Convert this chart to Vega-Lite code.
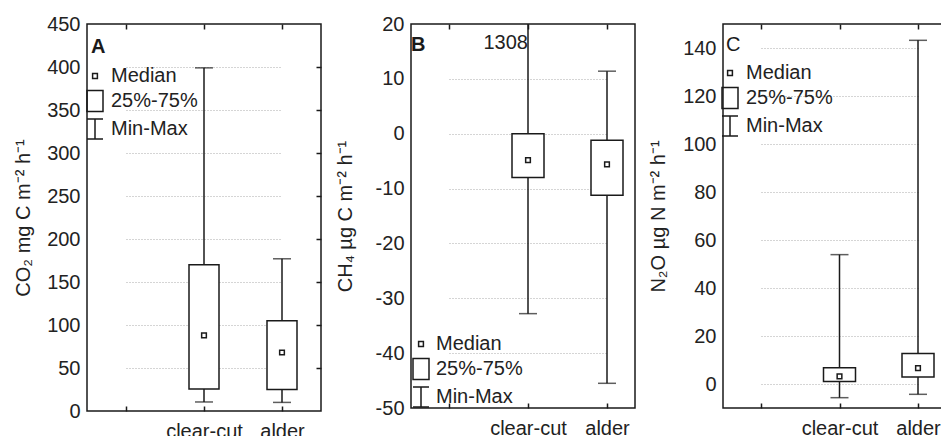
{
  "$schema": "https://vega.github.io/schema/vega-lite/v6.json",
  "background": "white",
  "padding": {"left": 12, "top": 13, "right": 0, "bottom": 0},
  "spacing": 11,
  "config": {
    "font": "Liberation Sans",
    "view": {"stroke": "#1a1a1a", "strokeWidth": 1.5},
    "axis": {"labelFont": "Liberation Sans", "titleFont": "Liberation Sans", "labelColor": "#222222", "titleColor": "#222222", "labelFontSize": 20, "titleFontSize": 20, "titleFontWeight": "normal"},
    "legend": {"labelFont": "Liberation Sans", "labelFontSize": 20, "labelColor": "#222222"}
  },
  "datasets": {
    "A": [
      {"group": "clear-cut", "min": 10.5, "q1": 25.5, "median": 88, "q3": 170, "max": 399},
      {"group": "alder", "min": 10, "q1": 25, "median": 68, "q3": 105, "max": 177}
    ],
    "B": [
      {"group": "clear-cut", "min": -32.8, "q1": -8, "median": -4.8, "q3": 0, "max": 1308, "label": "1308"},
      {"group": "alder", "min": -45.5, "q1": -11.2, "median": -5.6, "q3": -1.2, "max": 11.4}
    ],
    "C": [
      {"group": "clear-cut", "min": -5.7, "q1": 1, "median": 3.2, "q3": 6.8, "max": 53.9},
      {"group": "alder", "min": -4.3, "q1": 2.9, "median": 6.6, "q3": 12.7, "max": 143.2}
    ],
    "legend": [{"item": "Median"}, {"item": "25%-75%"}, {"item": "Min-Max"}]
  },
  "hconcat": [
    {
      "width": 234, "height": 387,
      "title": {"text": "A", "anchor": "start", "frame": "group", "orient": "top", "offset": -59, "baseline": "alphabetic", "dx": 4, "fontSize": 20, "fontWeight": "bold", "color": "#1a1a1a"},
      "data": {"name": "A"},
      "layer": [
        {
          "mark": {"type": "rule", "stroke": "#1a1a1a", "strokeWidth": 1.5},
          "encoding": {
            "x": {"field": "group", "type": "nominal", "scale": {"type": "point", "domain": [" ", "clear-cut", "alder"], "range": [39, 195], "padding": 0},
                  "axis": {"orient": "bottom", "title": null, "labelAngle": 0, "domain": false, "grid": false, "ticks": true, "tickSize": -5, "tickColor": "#1a1a1a", "tickWidth": 1.5, "labelPadding": 15}},
            "y": {"field": "min", "type": "quantitative", "scale": {"domain": [0, 450], "nice": false, "zero": false},
                  "axis": {"orient": "left", "title": "CO₂ mg C m⁻² h⁻¹", "titlePadding": 13, "values": [0, 50, 100, 150, 200, 250, 300, 350, 400, 450], "labelExpr": "datum.value + ''", "ticks": false, "domain": false, "labelPadding": 7, "grid": true, "gridColor": "#aaaaaa", "gridDash": [1, 2], "gridWidth": 1, "gridOpacity": {"condition": {"test": "datum.value == 0 || datum.value == 450", "value": 0}, "value": 1}}},
            "y2": {"field": "max"}
          }
        },
        {
          "mark": {"type": "tick", "size": 18, "thickness": 1.5, "color": "#1a1a1a"},
          "encoding": {
            "x": {"field": "group", "type": "nominal", "axis": {"orient": "top", "labels": false, "title": null, "domain": false, "grid": false, "ticks": true, "tickSize": -5, "tickColor": "#1a1a1a", "tickWidth": 1.5}},
            "y": {"field": "min", "type": "quantitative", "axis": {"orient": "right", "labels": false, "title": null, "domain": false, "grid": false, "ticks": true, "tickSize": -5, "tickColor": "#1a1a1a", "tickWidth": 1.5, "values": [50, 100, 150, 200, 250, 300, 350, 400]}}
          }
        },
        {
          "mark": {"type": "tick", "size": 18, "thickness": 1.5, "color": "#1a1a1a"},
          "encoding": {
            "x": {"field": "group", "type": "nominal", "axis": null},
            "y": {"field": "max", "type": "quantitative", "axis": null}
          }
        },
        {
          "mark": {"type": "bar", "size": 30, "fill": "white", "stroke": "#1a1a1a", "strokeWidth": 1.5},
          "encoding": {
            "x": {"field": "group", "type": "nominal", "axis": null},
            "y": {"field": "q1", "type": "quantitative", "axis": null},
            "y2": {"field": "q3"}
          }
        },
        {
          "mark": {"type": "point", "shape": "square", "size": 22, "filled": false, "stroke": "#1a1a1a", "strokeWidth": 1.5, "opacity": 1},
          "encoding": {
            "x": {"field": "group", "type": "nominal", "axis": null},
            "y": {"field": "median", "type": "quantitative", "axis": null}
          }
        },
        {
          "data": {"name": "legend"},
          "mark": {"type": "point", "filled": false, "opacity": 0, "color": "#1a1a1a"},
          "encoding": {
            "shape": {"field": "item", "type": "nominal",
              "scale": {"domain": ["Median", "25%-75%", "Min-Max"], "range": ["M-0.3,-0.3H0.3V0.3H-0.3Z", "M-1,-1.3H1V1.3H-1Z", "M-1,-1.25H1M0,-1.25V1.25M-1,1.25H1"]},
              "legend": {"orient": "none", "legendX": -2, "legendY": 42, "title": null, "labelOffset": 6, "symbolSize": 256, "symbolStrokeWidth": 1.5, "symbolStrokeColor": "#1a1a1a", "symbolFillColor": "white", "symbolOpacity": 1, "rowPadding": 1, "padding": 0}}
          }
        }
      ],
      "resolve": {"axis": {"x": "independent", "y": "independent"}}
    },
    {
      "width": 224, "height": 384,
      "title": {"text": "B", "anchor": "start", "frame": "group", "orient": "top", "offset": -57, "baseline": "alphabetic", "dx": 0, "fontSize": 20, "fontWeight": "bold", "color": "#1a1a1a"},
      "data": {"name": "B"},
      "layer": [
        {
          "mark": {"type": "rule", "stroke": "#1a1a1a", "strokeWidth": 1.5},
          "encoding": {
            "x": {"field": "group", "type": "nominal", "scale": {"type": "point", "domain": [" ", "clear-cut", "alder"], "range": [38, 196], "padding": 0},
                  "axis": {"orient": "bottom", "title": null, "labelAngle": 0, "domain": false, "grid": false, "ticks": true, "tickSize": -5, "tickColor": "#1a1a1a", "tickWidth": 1.5, "labelPadding": 15}},
            "y": {"field": "min", "type": "quantitative", "scale": {"domain": [-50, 20], "nice": false, "zero": false, "clamp": true},
                  "axis": {"orient": "left", "title": "CH₄ µg C m⁻² h⁻¹", "titlePadding": 20, "values": [-50, -40, -30, -20, -10, 0, 10, 20], "labelExpr": "datum.value + ''", "ticks": false, "domain": false, "labelPadding": 7, "grid": true, "gridColor": "#aaaaaa", "gridDash": [1, 2], "gridWidth": 1, "gridOpacity": {"condition": {"test": "datum.value == -50 || datum.value == 20", "value": 0}, "value": 1}}},
            "y2": {"field": "max"}
          }
        },
        {
          "mark": {"type": "tick", "size": 18, "thickness": 1.5, "color": "#1a1a1a"},
          "encoding": {
            "x": {"field": "group", "type": "nominal", "axis": {"orient": "top", "labels": false, "title": null, "domain": false, "grid": false, "ticks": true, "tickSize": -5, "tickColor": "#1a1a1a", "tickWidth": 1.5}},
            "y": {"field": "min", "type": "quantitative", "axis": null}
          }
        },
        {
          "transform": [{"filter": "datum.max <= 20"}],
          "mark": {"type": "tick", "size": 18, "thickness": 1.5, "color": "#1a1a1a"},
          "encoding": {
            "x": {"field": "group", "type": "nominal", "axis": null},
            "y": {"field": "max", "type": "quantitative", "axis": null}
          }
        },
        {
          "mark": {"type": "bar", "size": 32, "fill": "white", "stroke": "#1a1a1a", "strokeWidth": 1.5},
          "encoding": {
            "x": {"field": "group", "type": "nominal", "axis": null},
            "y": {"field": "q1", "type": "quantitative", "axis": null},
            "y2": {"field": "q3"}
          }
        },
        {
          "mark": {"type": "point", "shape": "square", "size": 22, "filled": false, "stroke": "#1a1a1a", "strokeWidth": 1.5, "opacity": 1},
          "encoding": {
            "x": {"field": "group", "type": "nominal", "axis": null},
            "y": {"field": "median", "type": "quantitative", "axis": null}
          }
        },
        {
          "transform": [{"filter": "datum.label"}],
          "mark": {"type": "text", "align": "right", "baseline": "top", "dy": 9, "fontSize": 20, "color": "#222222"},
          "encoding": {
            "x": {"field": "group", "type": "nominal", "axis": null},
            "y": {"field": "max", "type": "quantitative", "axis": null},
            "text": {"field": "label"}
          }
        },
        {
          "data": {"name": "legend"},
          "mark": {"type": "point", "filled": false, "opacity": 0, "color": "#1a1a1a"},
          "encoding": {
            "shape": {"field": "item", "type": "nominal",
              "scale": {"domain": ["Median", "25%-75%", "Min-Max"], "range": ["M-0.3,-0.3H0.3V0.3H-0.3Z", "M-1,-1.3H1V1.3H-1Z", "M-1,-1.25H1M0,-1.25V1.25M-1,1.25H1"]},
              "legend": {"orient": "none", "legendX": 0, "legendY": 310, "title": null, "labelOffset": 5, "symbolSize": 256, "symbolStrokeWidth": 1.5, "symbolStrokeColor": "#1a1a1a", "symbolFillColor": "white", "symbolOpacity": 1, "rowPadding": 1, "padding": 0}}
          }
        }
      ],
      "resolve": {"axis": {"x": "independent", "y": "independent"}}
    },
    {
      "width": 233, "height": 384,
      "title": {"text": "C", "anchor": "start", "frame": "group", "orient": "top", "offset": -48, "baseline": "alphabetic", "dx": 3, "fontSize": 20, "fontWeight": "normal", "color": "#1a1a1a"},
      "data": {"name": "C"},
      "layer": [
        {
          "mark": {"type": "rule", "stroke": "#1a1a1a", "strokeWidth": 1.5},
          "encoding": {
            "x": {"field": "group", "type": "nominal", "scale": {"type": "point", "domain": [" ", "clear-cut", "alder"], "range": [38, 195], "padding": 0},
                  "axis": {"orient": "bottom", "title": null, "labelAngle": 0, "domain": false, "grid": false, "ticks": true, "tickSize": -5, "tickColor": "#1a1a1a", "tickWidth": 1.5, "labelPadding": 15}},
            "y": {"field": "min", "type": "quantitative", "scale": {"domain": [-10, 150], "nice": false, "zero": false},
                  "axis": {"orient": "left", "title": "N₂O µg N m⁻² h⁻¹", "titlePadding": 14, "values": [0, 20, 40, 60, 80, 100, 120, 140], "labelExpr": "datum.value + ''", "ticks": false, "domain": false, "labelPadding": 7, "grid": true, "gridColor": "#aaaaaa", "gridDash": [1, 2], "gridWidth": 1}},
            "y2": {"field": "max"}
          }
        },
        {
          "mark": {"type": "tick", "size": 18, "thickness": 1.5, "color": "#1a1a1a"},
          "encoding": {
            "x": {"field": "group", "type": "nominal", "axis": {"orient": "top", "labels": false, "title": null, "domain": false, "grid": false, "ticks": true, "tickSize": -5, "tickColor": "#1a1a1a", "tickWidth": 1.5}},
            "y": {"field": "min", "type": "quantitative", "axis": null}
          }
        },
        {
          "mark": {"type": "tick", "size": 18, "thickness": 1.5, "color": "#1a1a1a"},
          "encoding": {
            "x": {"field": "group", "type": "nominal", "axis": null},
            "y": {"field": "max", "type": "quantitative", "axis": null}
          }
        },
        {
          "mark": {"type": "bar", "size": 32, "fill": "white", "stroke": "#1a1a1a", "strokeWidth": 1.5},
          "encoding": {
            "x": {"field": "group", "type": "nominal", "axis": null},
            "y": {"field": "q1", "type": "quantitative", "axis": null},
            "y2": {"field": "q3"}
          }
        },
        {
          "mark": {"type": "point", "shape": "square", "size": 22, "filled": false, "stroke": "#1a1a1a", "strokeWidth": 1.5, "opacity": 1},
          "encoding": {
            "x": {"field": "group", "type": "nominal", "axis": null},
            "y": {"field": "median", "type": "quantitative", "axis": null}
          }
        },
        {
          "data": {"name": "legend"},
          "mark": {"type": "point", "filled": false, "opacity": 0, "color": "#1a1a1a"},
          "encoding": {
            "shape": {"field": "item", "type": "nominal",
              "scale": {"domain": ["Median", "25%-75%", "Min-Max"], "range": ["M-0.3,-0.3H0.3V0.3H-0.3Z", "M-1,-1.3H1V1.3H-1Z", "M-1,-1.25H1M0,-1.25V1.25M-1,1.25H1"]},
              "legend": {"orient": "none", "legendX": -3, "legendY": 39, "title": null, "labelOffset": 6, "symbolSize": 256, "symbolStrokeWidth": 1.5, "symbolStrokeColor": "#1a1a1a", "symbolFillColor": "white", "symbolOpacity": 1, "rowPadding": 1, "padding": 0}}
          }
        }
      ],
      "resolve": {"axis": {"x": "independent", "y": "independent"}}
    }
  ],
  "resolve": {"scale": {"shape": "independent"}, "legend": {"shape": "independent"}}
}
